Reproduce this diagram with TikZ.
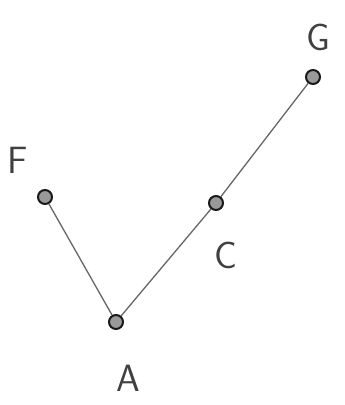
\documentclass[tikz,border=0pt]{standalone}
\usepackage{tikz}
\begin{document}
\begin{tikzpicture}[x=1pt, y=-1pt,
    vert/.style={circle, draw=black!90, fill=black!40, line width=2pt, minimum size=14pt, inner sep=0pt},
    edge/.style={draw=black!60, line width=1.3pt},
    lbl/.style={font=\fontsize{38}{38}\selectfont\sffamily, text=black!75}]
    % Rahmen
    \useasboundingbox (0, 0) rectangle (345, 405);

    % Knoten
    \node[vert] (F) at (45, 197) {};
    \node[vert] (A) at (116, 322) {};
    \node[vert] (C) at (216, 203) {};
    \node[vert] (G) at (313, 77) {};

    % Kanten
    \draw[edge] (F) -- (A);
    \draw[edge] (A) -- (C);
    \draw[edge] (C) -- (G);

    % Beschriftungen
    \node[lbl] (lF) at (18, 160) {F};
    \node[lbl] (lA) at (128, 378) {A};
    \node[lbl] (lC) at (226, 255) {C};
    \node[lbl] (lG) at (318, 37) {G};
\end{tikzpicture}
\end{document}
